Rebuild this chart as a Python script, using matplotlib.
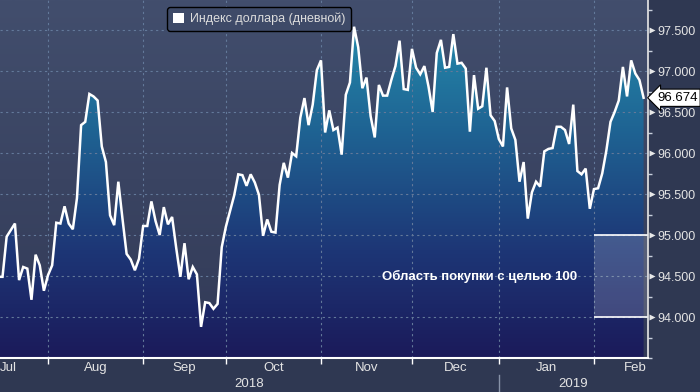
import numpy as np
import pandas as pd
import matplotlib
matplotlib.use('Agg')
import matplotlib.pyplot as plt
import matplotlib.transforms as mtransforms
import matplotlib.ticker as mticker
from matplotlib.colors import LinearSegmentedColormap
from matplotlib.patches import Patch, Rectangle

# ---------------- data ----------------
start_date = '2018-07-16'
dxy = [94.49, 94.49, 94.98, 95.06, 95.14, 94.45, 94.61, 94.59, 94.21, 94.76,
       94.63, 94.32, 94.51, 94.63, 95.15, 95.14, 95.35, 95.14, 95.07, 95.45,
       96.34, 96.38, 96.72, 96.69, 96.64, 96.08, 95.89, 95.24, 95.12, 95.65,
       95.20, 94.77, 94.70, 94.57, 94.71, 95.11, 95.11, 95.41, 95.17, 95.00,
       95.34, 95.13, 95.22, 94.84, 94.49, 94.90, 94.46, 94.61, 94.52, 93.88,
       94.18, 94.17, 94.10, 94.16, 94.85, 95.10, 95.29, 95.48, 95.74, 95.73,
       95.60, 95.74, 95.64, 95.49, 94.99, 95.19, 95.04, 95.03, 95.61, 95.88,
       95.70, 96.00, 95.96, 96.43, 96.67, 96.34, 96.59, 97.01, 97.13, 96.25,
       96.52, 96.28, 96.31, 95.98, 96.71, 96.86, 97.54, 97.29, 96.79, 96.92,
       96.45, 96.19, 96.83, 96.70, 96.70, 96.89, 97.06, 97.37, 96.78, 96.77,
       97.27, 97.04, 96.96, 97.06, 96.81, 96.50, 97.22, 97.38, 97.04, 97.05,
       97.45, 97.09, 97.10, 97.03, 96.26, 96.95, 96.54, 96.57, 97.04, 96.46,
       96.39, 96.17, 96.08, 96.80, 96.30, 96.16, 95.65, 95.89, 95.20, 95.52,
       95.65, 95.59, 96.02, 96.05, 96.06, 96.32, 96.32, 96.28, 96.11, 96.59,
       95.78, 95.74, 95.81, 95.32, 95.56, 95.57, 95.75, 96.03, 96.38, 96.50,
       96.64, 97.05, 96.69, 97.13, 96.97, 96.89, 96.674]
series_label = 'Индекс доллара (дневной)'
zone_low, zone_high = 94.0, 95.0
zone_start = '2019-02-01'
zone_label = 'Область покупки с целью 100'
y_major = [94.0, 94.5, 95.0, 95.5, 96.0, 96.5, 97.0, 97.5]
month_names = {1: 'Jan', 2: 'Feb', 7: 'Jul', 8: 'Aug', 9: 'Sep', 10: 'Oct',
               11: 'Nov', 12: 'Dec'}
calendar_start, calendar_end = '2018-07-01', '2019-03-31'

# ---------------- setup ----------------
plt.rcParams['font.family'] = ['Liberation Sans', 'DejaVu Sans']
FIG_BG = '#2f3852'
dates = pd.bdate_range(start_date, periods=len(dxy))
x = np.arange(len(dxy))
cal = pd.bdate_range(calendar_start, calendar_end)
offset = cal.get_loc(pd.Timestamp(start_date))
cal_pos = np.arange(len(cal)) - offset
months = cal.to_period('M')
month_first = {}
for p, m in zip(cal_pos, months):
    month_first.setdefault(m, p)
mlist = list(month_first.keys())

fig = plt.figure(figsize=(7, 3.92), dpi=100, facecolor=FIG_BG)
ax = fig.add_axes([0, 34 / 392, 648 / 700, 358 / 392])
ax.set_facecolor('#3a4563')

xlim = (0.39, 157.07)
ylim = (93.5, 97.866)
ax.set_xlim(*xlim)
ax.set_ylim(*ylim)

# background gradient
bg_cmap = LinearSegmentedColormap.from_list('bg', ['#323a57', '#424e6d'])
grad = np.linspace(0, 1, 256).reshape(-1, 1)
ax.imshow(grad, cmap=bg_cmap, origin='lower', aspect='auto',
          extent=(*xlim, *ylim), zorder=0)

# filled area gradient
fill_cmap = LinearSegmentedColormap.from_list(
    'fill', [(0.0, '#1b1a5a'), (0.3, '#1d3676'), (0.65, '#1f6594'), (1.0, '#2592b0')])
poly = ax.fill_between(x, dxy, ylim[0], color='none', zorder=1)
im = ax.imshow(grad, cmap=fill_cmap, origin='lower', aspect='auto',
               extent=(*xlim, *ylim), zorder=1)
im.set_clip_path(poly.get_paths()[0], transform=ax.transData)

# grid
grid_kw = dict(color='#63799a', lw=0.8, ls=(0, (2, 3)), zorder=2)
for yv in y_major:
    ax.axhline(yv, **grid_kw)
boundaries = [month_first[m] for m in mlist if xlim[0] < month_first[m] < xlim[1]]
for bx in boundaries:
    ax.axvline(bx, **grid_kw)

# buy zone
zx0 = dates.get_loc(pd.Timestamp(zone_start))
ax.add_patch(Rectangle((zx0, zone_low), xlim[1] - zx0, zone_high - zone_low,
                       facecolor='white', alpha=0.17, edgecolor='none', zorder=2))
for yv in (zone_low, zone_high):
    ax.plot([zx0, xlim[1]], [yv, yv], color='white', lw=1.2, zorder=3,
            solid_capstyle='butt')
ax.text(116.4, (zone_low + zone_high) / 2, zone_label,
        color='white', fontsize=9.5, fontweight='bold', ha='center', va='center',
        zorder=5)

# main line
ax.plot(x, dxy, color='white', lw=1.8, zorder=4, solid_joinstyle='miter')

# spines
for s in ('left', 'top'):
    ax.spines[s].set_visible(False)
ax.spines['bottom'].set_color('white')
ax.spines['bottom'].set_linewidth(1.5)
ax.spines['right'].set_color('#e8e8e8')
ax.spines['right'].set_linewidth(1.2)
for s in ('bottom', 'right'):
    ax.spines[s].set_zorder(6)

# y axis
ax.yaxis.tick_right()
ax.yaxis.set_major_locator(mticker.FixedLocator(y_major))
ax.yaxis.set_minor_locator(mticker.MultipleLocator(0.25))
ax.yaxis.set_major_formatter(mticker.FormatStrFormatter('%.3f'))
ax.tick_params(axis='y', which='major', length=0, pad=7, labelsize=9,
               labelcolor='#e4e4e4')
ax.tick_params(axis='y', which='minor', length=3, width=1, color='#c8cfdc')
tri_tr = mtransforms.offset_copy(ax.get_yaxis_transform(), fig=fig, x=3.5, y=0,
                                 units='dots')
ax.plot([1] * len(y_major), y_major, ls='none', marker='>', ms=5,
        color='#e8e8e8', mec='none', transform=tri_tr, clip_on=False, zorder=7)

# x axis
ax.set_xticks(boundaries)
ax.set_xticklabels([])
ax.tick_params(axis='x', which='major', length=4, width=1, color='white',
               direction='out')
xtr = ax.get_xaxis_transform()
for i, m in enumerate(mlist[:-1]):
    center = (month_first[m] + month_first[mlist[i + 1]]) / 2
    center = max(center, xlim[0] + 1.95)   # keep the first label mostly visible
    ax.text(center, -10 / 358, month_names[m.month], transform=xtr, ha='center',
            va='center', fontsize=9.5, color='#e4e4e4', clip_on=False)
# years
year_first = {}
for p, d in zip(cal_pos, cal):
    year_first.setdefault(d.year, p)
years = sorted(year_first)
y_left = [xlim[0], year_first[years[1]]]
y_right = [year_first[years[1]], xlim[1]]
for yr, l, r in zip(years, y_left, y_right):
    ax.text((l + r) / 2, -26 / 358, str(yr), transform=xtr, ha='center',
            va='center', fontsize=9.5, color='#e4e4e4', clip_on=False)
ax.plot([year_first[years[1]]] * 2, [-17 / 358, -40 / 358], transform=xtr,
        color='#8792a8', lw=1, clip_on=False)

# last value label
last = dxy[-1]
lab_tr = mtransforms.offset_copy(ax.get_yaxis_transform(), fig=fig, x=9, y=0,
                                 units='dots')
ax.text(1, last, f'{last:.3f}', transform=lab_tr, ha='left', va='center',
        fontsize=9.5, color='black', zorder=8, clip_on=False,
        bbox=dict(boxstyle='larrow,pad=0.2', fc='white', ec='black', lw=0.8))

# legend
leg = ax.legend(handles=[Patch(facecolor='white', edgecolor='none')],
                labels=[series_label], loc='upper left',
                bbox_to_anchor=(167 / 648, 1 - 7 / 358), frameon=True,
                facecolor='#3e4a68', edgecolor='black', fontsize=9,
                labelcolor='#dcdcdc', handlelength=0.9, handleheight=0.9,
                borderpad=0.45, handletextpad=0.5, fancybox=True,
                borderaxespad=0)
leg.get_frame().set_alpha(1)
leg.set_zorder(9)

fig.savefig('out.png', dpi=100, facecolor=FIG_BG)
